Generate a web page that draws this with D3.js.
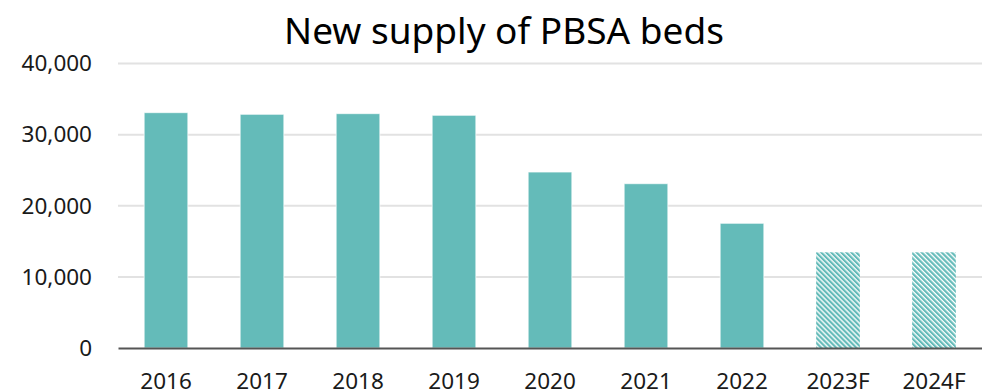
<!DOCTYPE html>
<html>
<head>
<meta charset="utf-8">
<script src="https://cdn.jsdelivr.net/npm/d3@7/dist/d3.min.js"></script>
<style>
  html, body { margin: 0; padding: 0; background: #fff; }
  svg { display: block; font-family: "Noto Sans", "Open Sans", sans-serif; }
</style>
</head>
<body>
<svg id="chart" width="982" height="392"></svg>
<script>
// New PBSA bed supply by year; forecast years are flagged separately
const years = ["2016", "2017", "2018", "2019", "2020", "2021", "2022", "2023F", "2024F"];
const beds = [33100, 32870, 32960, 32730, 24750, 23110, 17540, 13460, 13460];
const forecast = [false, false, false, false, false, false, false, true, true];
const yTicks = [0, 10000, 20000, 30000, 40000];
const titleText = "New supply of PBSA beds";

const teal = "#64bbb9";
const fontFamily = "'Noto Sans', 'Open Sans', sans-serif";
const svg = d3.select("#chart");
const plot = { left: 118, right: 982, top: 63.6, bottom: 348 };

const x = d3.scaleBand()
  .domain(years)
  .range([plot.left, plot.right])
  .paddingInner(0.545)
  .paddingOuter(0.2725);

const y = d3.scaleLinear()
  .domain([0, 40000])
  .range([plot.bottom, plot.top]);

// diagonal hatch for forecast bars
const defs = svg.append("defs");
const pat = defs.append("pattern")
  .attr("id", "hatch")
  .attr("patternUnits", "userSpaceOnUse")
  .attr("width", 3.55)
  .attr("height", 10)
  .attr("patternTransform", "rotate(-45)");
pat.append("rect").attr("width", 3.55).attr("height", 10).attr("fill", "#fff");
pat.append("rect").attr("width", 2.2).attr("height", 10).attr("fill", teal);

// title
svg.append("text")
  .attr("x", 504)
  .attr("y", 44)
  .attr("text-anchor", "middle")
  .attr("font-size", 37)
  .attr("font-family", fontFamily)
  .attr("fill", "#000")
  .text(titleText);

// horizontal gridlines
svg.append("g")
  .selectAll("line")
  .data(yTicks.filter(d => d > 0))
  .join("line")
  .attr("x1", plot.left)
  .attr("x2", plot.right)
  .attr("y1", d => y(d))
  .attr("y2", d => y(d))
  .attr("stroke", "#e2e2e2")
  .attr("stroke-width", 2);

// y axis labels
const yAxis = d3.axisLeft(y)
  .tickValues(yTicks)
  .tickFormat(d3.format(","))
  .tickSize(0)
  .tickPadding(26);
const gy = svg.append("g")
  .attr("transform", `translate(${plot.left},0)`)
  .call(yAxis);
gy.select(".domain").remove();
gy.selectAll("text")
  .attr("font-size", 22.5)
  .attr("font-family", fontFamily)
  .attr("fill", "#1a1a1a");

// bars
svg.append("g")
  .selectAll("rect")
  .data(years.map((yr, i) => ({ yr, v: beds[i], f: forecast[i] })))
  .join("rect")
  .attr("x", d => x(d.yr))
  .attr("width", x.bandwidth())
  .attr("y", d => y(d.v))
  .attr("height", d => y(0) - y(d.v))
  .attr("fill", d => d.f ? "url(#hatch)" : teal)
  .attr("stroke", d => d.f ? "none" : "rgba(255,255,255,0.7)")
  .attr("stroke-width", 1);

// baseline and x axis labels
const xAxis = d3.axisBottom(x).tickSize(0).tickPadding(25);
const gx = svg.append("g")
  .attr("transform", `translate(0,${plot.bottom})`)
  .call(xAxis);
gx.select(".domain")
  .attr("stroke", "#555")
  .attr("stroke-width", 2);
gx.selectAll("text")
  .attr("font-size", 22.5)
  .attr("font-family", fontFamily)
  .attr("fill", "#1a1a1a");
</script>
</body>
</html>
